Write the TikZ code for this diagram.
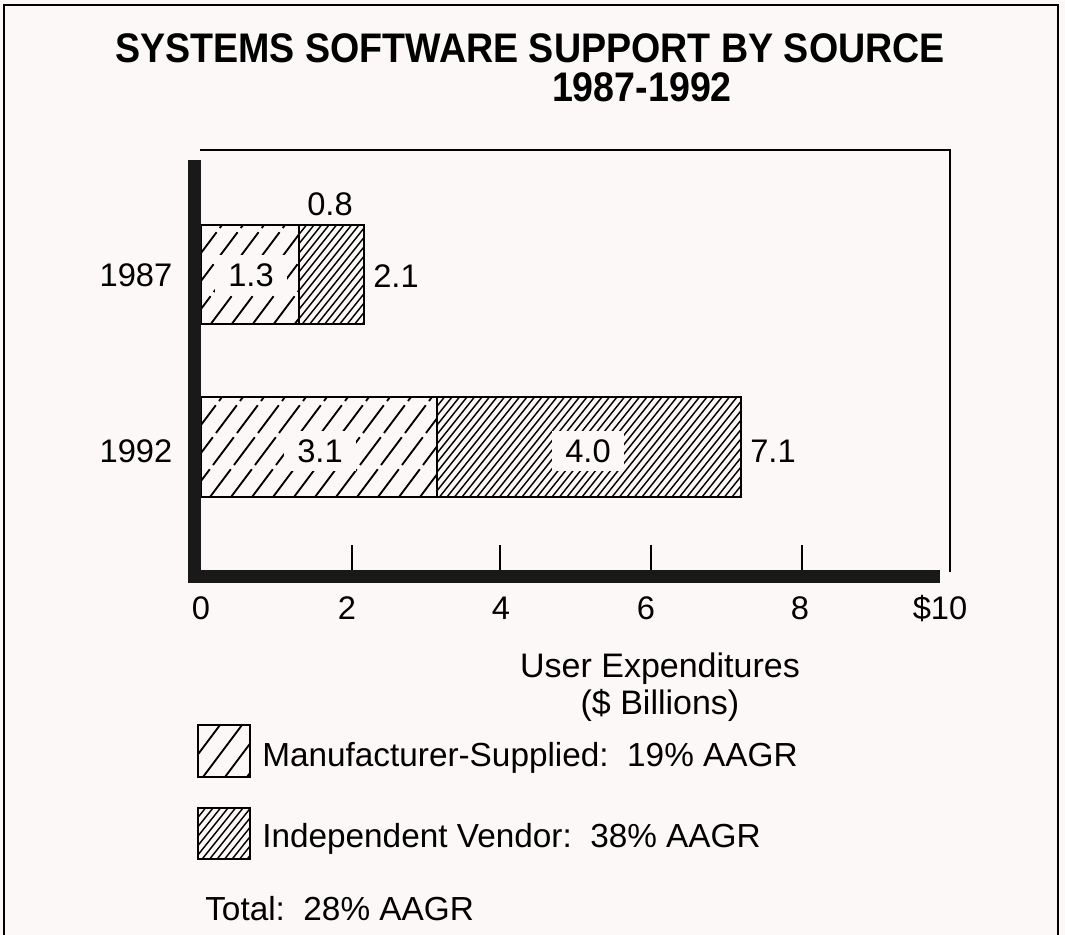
\documentclass[tikz,border=0pt]{standalone}
\usepackage{fontspec}
\setmainfont{Liberation Sans}
\usepackage{graphicx}
\definecolor{bgc}{RGB}{252,248,248}
\newcommand\myhatch[7]{%
  \begin{scope}
    \clip (#1,#2) rectangle (#3,#4);
    \pgfmathsetmacro\hh{#4-#2}
    \pgfmathsetmacro\hdx{\hh*#6}
    \pgfmathsetmacro\hstart{#1-\hdx}
    \pgfmathsetmacro\hnext{\hstart+#5}
    \foreach \xx in {\hstart,\hnext,...,#3} \draw[#7] (\xx,#4) -- ++(\hdx,-\hh);
  \end{scope}}
\begin{document}
\begin{tikzpicture}[x=0.75pt,y=-0.75pt,
  lbl/.style={font=\fontsize{24.5}{29}\selectfont, inner sep=0pt, anchor=base},
  axt/.style={font=\fontsize{25.5}{30}\selectfont, inner sep=0pt, anchor=base},
  leg/.style={font=\fontsize{25}{30}\selectfont, inner sep=0pt, anchor=base west},
  ttl/.style={font=\bfseries\fontsize{31}{36}\selectfont, inner sep=0pt, anchor=base},
  clr/.style={fill=bgc, inner xsep=10pt, inner ysep=6pt, anchor=center, font=\fontsize{24.5}{29}\selectfont},
  frm/.style={line width=1.1pt},
  barline/.style={line width=2pt},
  mhatch/.style={line width=1.4pt, dash pattern=on 26pt off 4pt, line cap=butt},
  mhatchs/.style={line width=1.4pt},
  ihatch/.style={line width=1.1pt},
  axisbar/.style={fill=black!90}]
\useasboundingbox (0,0) rectangle (1065,935);
\fill[bgc] (0,0) rectangle (1065,935);
% outer frame
\draw[frm] (4,935) -- (4,5) -- (1058,5) -- (1058,935);
% title
\node[ttl] (title1) at (530,62) {\scalebox{0.91}[1]{SYSTEMS SOFTWARE SUPPORT BY SOURCE}};
\node[ttl] (title2) at (642,101) {\scalebox{0.91}[1]{1987-1992}};
% plot frame
\draw[frm] (200,150) -- (950,150) -- (950,572);
% hatching of bars
\myhatch{201}{225}{299}{324}{21}{0.75}{mhatch}
\myhatch{299}{225}{364}{324}{7.5}{0.8}{ihatch}
\myhatch{201}{397}{437}{497}{21}{0.75}{mhatch}
\myhatch{437}{397}{741}{497}{7.5}{0.8}{ihatch}
% bar outlines
\draw[barline] (201,225) rectangle (364,324);
\draw[barline] (299,225) -- (299,324);
\draw[barline] (201,397) rectangle (741,497);
\draw[barline] (437,397) -- (437,497);
% ticks
\foreach \t in {352,500,651,802} \draw[line width=1.8pt] (\t,545) -- (\t,572);
% thick axes
\fill[axisbar] (188,160) rectangle (201,583);
\fill[axisbar] (188,570) rectangle (940,583);
% bar labels
\node[lbl] (y1987) at (136,286) {1987};
\node[lbl] (y1992) at (136,462) {1992};
\node[lbl] (v08) at (330,215) {0.8};
\node[clr] (v13) at (251,275) {1.3};
\node[lbl] (v21) at (396,287) {2.1};
\node[clr] (v31) at (320,451) {3.1};
\node[clr] (v40) at (588,451) {4.0};
\node[lbl] (v71) at (773,462) {7.1};
% tick labels
\node[lbl] (x0) at (201,619) {0};
\node[lbl] (x2) at (347,619) {2};
\node[lbl] (x4) at (501,619) {4};
\node[lbl] (x6) at (646,619) {6};
\node[lbl] (x8) at (800,619) {8};
\node[lbl] (x10) at (940,619) {\$10};
\node[axt] (xt1) at (660,677) {User Expenditures};
\node[axt] (xt2) at (660,714) {(\$ Billions)};
% legend
\myhatch{198}{725}{250}{777}{22}{0.75}{mhatchs}
\draw[barline] (198,725) rectangle (250,777);
\myhatch{198}{808}{250}{859}{7.5}{0.8}{ihatch}
\draw[barline] (198,808) rectangle (250,859);
\node[leg] (l1) at (262,766) {Manufacturer-Supplied:\ \ 19\% AAGR};
\node[leg] (l2) at (262,847) {Independent Vendor:\ \ 38\% AAGR};
\node[leg] (l3) at (205,920) {Total:\ \ 28\% AAGR};
\end{tikzpicture}
\end{document}
